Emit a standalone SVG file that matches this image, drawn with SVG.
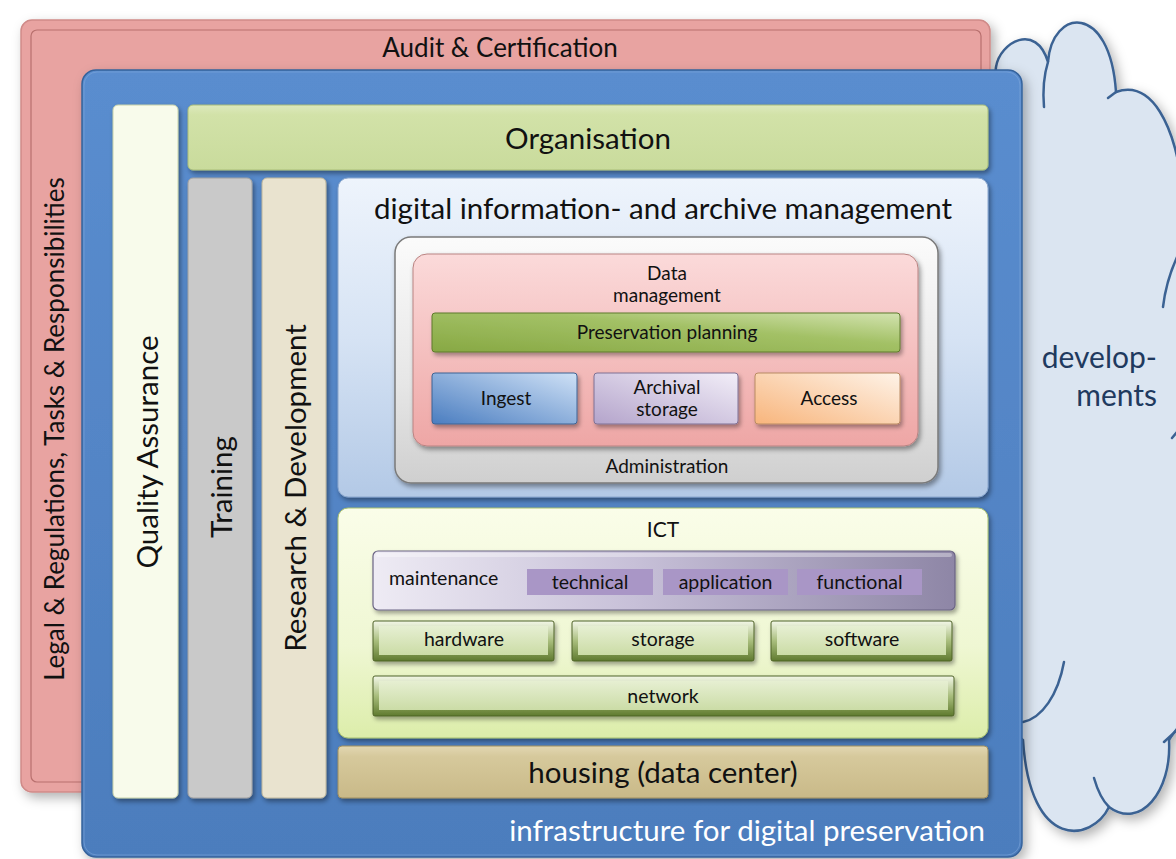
<svg xmlns="http://www.w3.org/2000/svg" width="1176" height="859" viewBox="0 0 1176 859">
<style>
  text { font-family: Lato, "Open Sans", "Liberation Sans", sans-serif; fill: #111111; }
  .big { font-size: 29.5px; }
  .mid { font-size: 26px; }
  .sm { font-size: 19px; }
  .ict { font-size: 19.5px; }
  .wt { fill: #ffffff; }
  .cl { fill: #1f3a5f; font-size: 30px; }
  .cloudline { fill: none; stroke: #3b6293; stroke-width: 2.5; stroke-linecap: round; }
</style>
<defs>
  <filter id="shBig" x="-10%" y="-10%" width="125%" height="125%">
    <feDropShadow dx="4" dy="5" stdDeviation="6" flood-color="#000" flood-opacity="0.3"/>
  </filter>
  <filter id="sh" x="-10%" y="-10%" width="125%" height="125%">
    <feDropShadow dx="2" dy="3" stdDeviation="2.5" flood-color="#000" flood-opacity="0.4"/>
  </filter>
  <filter id="shS" x="-10%" y="-20%" width="125%" height="150%">
    <feDropShadow dx="2" dy="3" stdDeviation="2" flood-color="#000" flood-opacity="0.35"/>
  </filter>
  <linearGradient id="gBlue" x1="0" y1="0" x2="0" y2="1">
    <stop offset="0" stop-color="#5a8dcf"/><stop offset="1" stop-color="#4c7dbd"/>
  </linearGradient>
  <linearGradient id="gDiam" x1="0" y1="0" x2="0" y2="1">
    <stop offset="0" stop-color="#eef4fc"/><stop offset="0.5" stop-color="#d6e3f4"/><stop offset="1" stop-color="#b3c9e6"/>
  </linearGradient>
  <linearGradient id="gAdmin" x1="0" y1="0" x2="0" y2="1">
    <stop offset="0" stop-color="#fbfbfb"/><stop offset="0.6" stop-color="#e6e6e6"/><stop offset="1" stop-color="#cfcfcf"/>
  </linearGradient>
  <linearGradient id="gDM" x1="0" y1="0" x2="0" y2="1">
    <stop offset="0" stop-color="#fbdada"/><stop offset="1" stop-color="#eea6a5"/>
  </linearGradient>
  <linearGradient id="gPP" x1="0" y1="1" x2="1" y2="0">
    <stop offset="0" stop-color="#87a843"/><stop offset="0.6" stop-color="#a3c166"/><stop offset="1" stop-color="#d3e3b0"/>
  </linearGradient>
  <linearGradient id="gIng" x1="0" y1="1" x2="1" y2="0">
    <stop offset="0" stop-color="#4a7dc0"/><stop offset="1" stop-color="#cfe1f6"/>
  </linearGradient>
  <linearGradient id="gArc" x1="0" y1="1" x2="1" y2="0">
    <stop offset="0" stop-color="#b4a4cb"/><stop offset="1" stop-color="#f2eef8"/>
  </linearGradient>
  <linearGradient id="gAcc" x1="0" y1="1" x2="1" y2="0">
    <stop offset="0" stop-color="#f8b57c"/><stop offset="1" stop-color="#fef3e8"/>
  </linearGradient>
  <linearGradient id="gICT" x1="0" y1="0" x2="0" y2="1">
    <stop offset="0" stop-color="#fafde9"/><stop offset="0.6" stop-color="#eff7d3"/><stop offset="1" stop-color="#dcedaa"/>
  </linearGradient>
  <linearGradient id="gMaint" x1="0" y1="0" x2="1" y2="0">
    <stop offset="0" stop-color="#eeebf4"/><stop offset="0.45" stop-color="#c7c0d8"/><stop offset="1" stop-color="#8e86a6"/>
  </linearGradient>
  <linearGradient id="gBev" x1="0" y1="0" x2="0" y2="1">
    <stop offset="0" stop-color="#f3f7e8"/><stop offset="0.5" stop-color="#a8bd7c"/><stop offset="1" stop-color="#5f7a2e"/>
  </linearGradient>
  <linearGradient id="gFace" x1="0" y1="0" x2="0" y2="1">
    <stop offset="0" stop-color="#e6efd2"/><stop offset="1" stop-color="#cbdca6"/>
  </linearGradient>
  <linearGradient id="gHouse" x1="0" y1="0" x2="0" y2="1">
    <stop offset="0" stop-color="#e2d7b2"/><stop offset="0.2" stop-color="#d6c99c"/><stop offset="1" stop-color="#c9b988"/>
  </linearGradient>
  <linearGradient id="gOrg" x1="0" y1="0" x2="0" y2="1">
    <stop offset="0" stop-color="#dde9bd"/><stop offset="0.15" stop-color="#d2e2a8"/><stop offset="1" stop-color="#c9db9c"/>
  </linearGradient>
</defs>

<rect width="1176" height="859" fill="#ffffff"/>

<g id="cloud">
  <path filter="url(#shBig)" fill="#dbe5f1" stroke="#3b6293" stroke-width="2.5" d="M 990 120 L 996 67 C 1000 42 1036 22 1048 62 C 1052 8 1110 2 1116 92 C 1150 80 1176 120 1184 200 L 1200 200 L 1200 720 L 1180 725 C 1176 730 1172 735 1169 740 C 1172 792 1140 830 1109 807 C 1092 842 1030 852 1023 740 L 1000 720 Z"/>
  <path class="cloudline" d="M 1048 62 C 1043 78 1043 95 1044 107"/>
  <path class="cloudline" d="M 1116 92 L 1108 98"/>
  <path class="cloudline" d="M 1178 255 C 1170 272 1165 290 1163 307"/>
  <path class="cloudline" d="M 1177 432 L 1172 438"/>
  <path class="cloudline" d="M 1064 662 C 1058 695 1042 718 1023 722"/>
  <path class="cloudline" d="M 1094 778 C 1098 792 1103 801 1109 807"/>
  <path class="cloudline" d="M 1177 730 L 1164 742"/>
  <text class="cl" x="1157" y="368" text-anchor="end">develop-</text>
  <text class="cl" x="1157" y="406" text-anchor="end">ments</text>
</g>

<g id="audit">
  <rect x="21" y="20" width="969" height="772" rx="11" fill="#e8a3a1" stroke="#cf8a88" stroke-width="1.5" filter="url(#shBig)"/>
  <rect x="31" y="30" width="950" height="752" rx="6" fill="none" stroke="#b8706e" stroke-width="1.2"/>
  <text class="mid" x="500" y="57" text-anchor="middle">Audit &amp; Certification</text>
  <text class="mid" x="0" y="0" text-anchor="middle" transform="translate(64,429) rotate(-90)">Legal &amp; Regulations, Tasks &amp; Responsibilities</text>
</g>

<g id="infrastructure">
  <rect x="82" y="70" width="940" height="787" rx="14" fill="url(#gBlue)" stroke="#36639c" stroke-width="1.5" filter="url(#shBig)"/>
  <rect x="84" y="72" width="936" height="783" rx="13" fill="none" stroke="#7ea6da" stroke-width="1" opacity="0.6"/>
  <text class="big wt" x="985" y="841" text-anchor="end">infrastructure for digital preservation</text>
</g>

<g id="quality">
  <rect x="113" y="105" width="65" height="693" rx="5" fill="#f8fbeb" stroke="#c9d2a8" stroke-width="1" filter="url(#sh)"/>
  <text class="big" x="0" y="0" text-anchor="middle" transform="translate(158,452) rotate(-90)">Quality Assurance</text>
</g>

<g id="organisation">
  <rect x="188" y="105" width="800" height="65" rx="5" fill="url(#gOrg)" stroke="#a9bd78" stroke-width="1" filter="url(#sh)"/>
  <text class="big" x="588" y="149" text-anchor="middle">Organisation</text>
</g>

<g id="training">
  <rect x="188" y="178" width="64" height="620" rx="5" fill="#c9c9c9" stroke="#a0a0a0" stroke-width="1" filter="url(#sh)"/>
  <text class="big" x="0" y="0" text-anchor="middle" transform="translate(232,487) rotate(-90)">Training</text>
</g>

<g id="research">
  <rect x="262" y="178" width="64" height="620" rx="5" fill="#e9e3cf" stroke="#bdb59a" stroke-width="1" filter="url(#sh)"/>
  <text class="big" x="0" y="0" text-anchor="middle" transform="translate(306,488) rotate(-90)">Research &amp; Development</text>
</g>

<g id="digital-management">
  <rect x="338" y="178" width="650" height="319" rx="10" fill="url(#gDiam)" stroke="#8aa6cc" stroke-width="1" filter="url(#sh)"/>
  <text class="big" x="663" y="219" text-anchor="middle">digital information- and archive management</text>
</g>

<g id="administration">
  <rect x="395" y="237" width="543" height="246" rx="16" fill="url(#gAdmin)" stroke="#7a7a7a" stroke-width="1.5" filter="url(#sh)"/>
  <text class="sm" x="667" y="473" text-anchor="middle">Administration</text>
</g>

<g id="data-management">
  <rect x="413" y="254" width="505" height="192" rx="14" fill="url(#gDM)" stroke="#b98382" stroke-width="1" filter="url(#sh)"/>
  <text class="sm" x="667" y="280" text-anchor="middle">Data</text>
  <text class="sm" x="667" y="302" text-anchor="middle">management</text>
</g>

<g id="preservation-planning">
  <rect x="432" y="313" width="468" height="39" rx="3" fill="url(#gPP)" stroke="#5e7a2c" stroke-width="1" filter="url(#shS)"/>
  <text class="sm" x="667" y="339" text-anchor="middle">Preservation planning</text>
</g>

<g id="ingest">
  <rect x="432" y="373" width="145" height="51" rx="3" fill="url(#gIng)" stroke="#3d6394" stroke-width="1" filter="url(#shS)"/>
  <text class="sm" x="506" y="405" text-anchor="middle">Ingest</text>
</g>

<g id="archival-storage">
  <rect x="594" y="373" width="144" height="51" rx="3" fill="url(#gArc)" stroke="#7f7194" stroke-width="1" filter="url(#shS)"/>
  <text class="sm" x="667" y="394" text-anchor="middle">Archival</text>
  <text class="sm" x="667" y="416" text-anchor="middle">storage</text>
</g>

<g id="access">
  <rect x="755" y="373" width="145" height="51" rx="3" fill="url(#gAcc)" stroke="#b98a63" stroke-width="1" filter="url(#shS)"/>
  <text class="sm" x="829" y="405" text-anchor="middle">Access</text>
</g>

<g id="ict">
  <rect x="338" y="508" width="650" height="230" rx="10" fill="url(#gICT)" stroke="#a7bf6e" stroke-width="1" filter="url(#sh)"/>
  <text x="663" y="537" text-anchor="middle" font-size="21">ICT</text>
</g>

<g id="maintenance">
  <rect x="373" y="551" width="582" height="59" rx="5" fill="url(#gMaint)" stroke="#6b6484" stroke-width="1.2" filter="url(#shS)"/>
  <rect x="376" y="553" width="576" height="4" rx="2" fill="#ffffff" opacity="0.35"/>
  <text class="ict" x="389" y="585">maintenance</text>
  <rect x="527" y="569" width="126" height="26" fill="#a996c6"/>
  <text class="ict" x="590" y="589" text-anchor="middle">technical</text>
  <rect x="663" y="569" width="125" height="26" fill="#a996c6"/>
  <text class="ict" x="725.5" y="589" text-anchor="middle">application</text>
  <rect x="797" y="569" width="125" height="26" fill="#a996c6"/>
  <text class="ict" x="859.5" y="589" text-anchor="middle">functional</text>
</g>

<g id="hardware">
  <rect x="373" y="621" width="181" height="40" rx="2" fill="url(#gBev)" stroke="#4f6228" stroke-width="1" filter="url(#shS)"/>
  <rect x="379" y="626" width="169" height="29" fill="url(#gFace)"/>
  <text class="ict" x="464" y="646" text-anchor="middle">hardware</text>
</g>

<g id="storage">
  <rect x="572" y="621" width="182" height="40" rx="2" fill="url(#gBev)" stroke="#4f6228" stroke-width="1" filter="url(#shS)"/>
  <rect x="578" y="626" width="170" height="29" fill="url(#gFace)"/>
  <text class="ict" x="663" y="646" text-anchor="middle">storage</text>
</g>

<g id="software">
  <rect x="771" y="621" width="181" height="40" rx="2" fill="url(#gBev)" stroke="#4f6228" stroke-width="1" filter="url(#shS)"/>
  <rect x="777" y="626" width="169" height="29" fill="url(#gFace)"/>
  <text class="ict" x="862" y="646" text-anchor="middle">software</text>
</g>

<g id="network">
  <rect x="373" y="676" width="581" height="40" rx="2" fill="url(#gBev)" stroke="#4f6228" stroke-width="1" filter="url(#shS)"/>
  <rect x="379" y="681" width="569" height="29" fill="url(#gFace)"/>
  <text class="ict" x="663" y="703" text-anchor="middle">network</text>
</g>

<g id="housing">
  <rect x="338" y="746" width="650" height="52" rx="4" fill="url(#gHouse)" stroke="#a08f5e" stroke-width="1" filter="url(#sh)"/>
  <text class="big" x="663" y="783" text-anchor="middle">housing (data center)</text>
</g>

<g id="connectors"></g>
</svg>
